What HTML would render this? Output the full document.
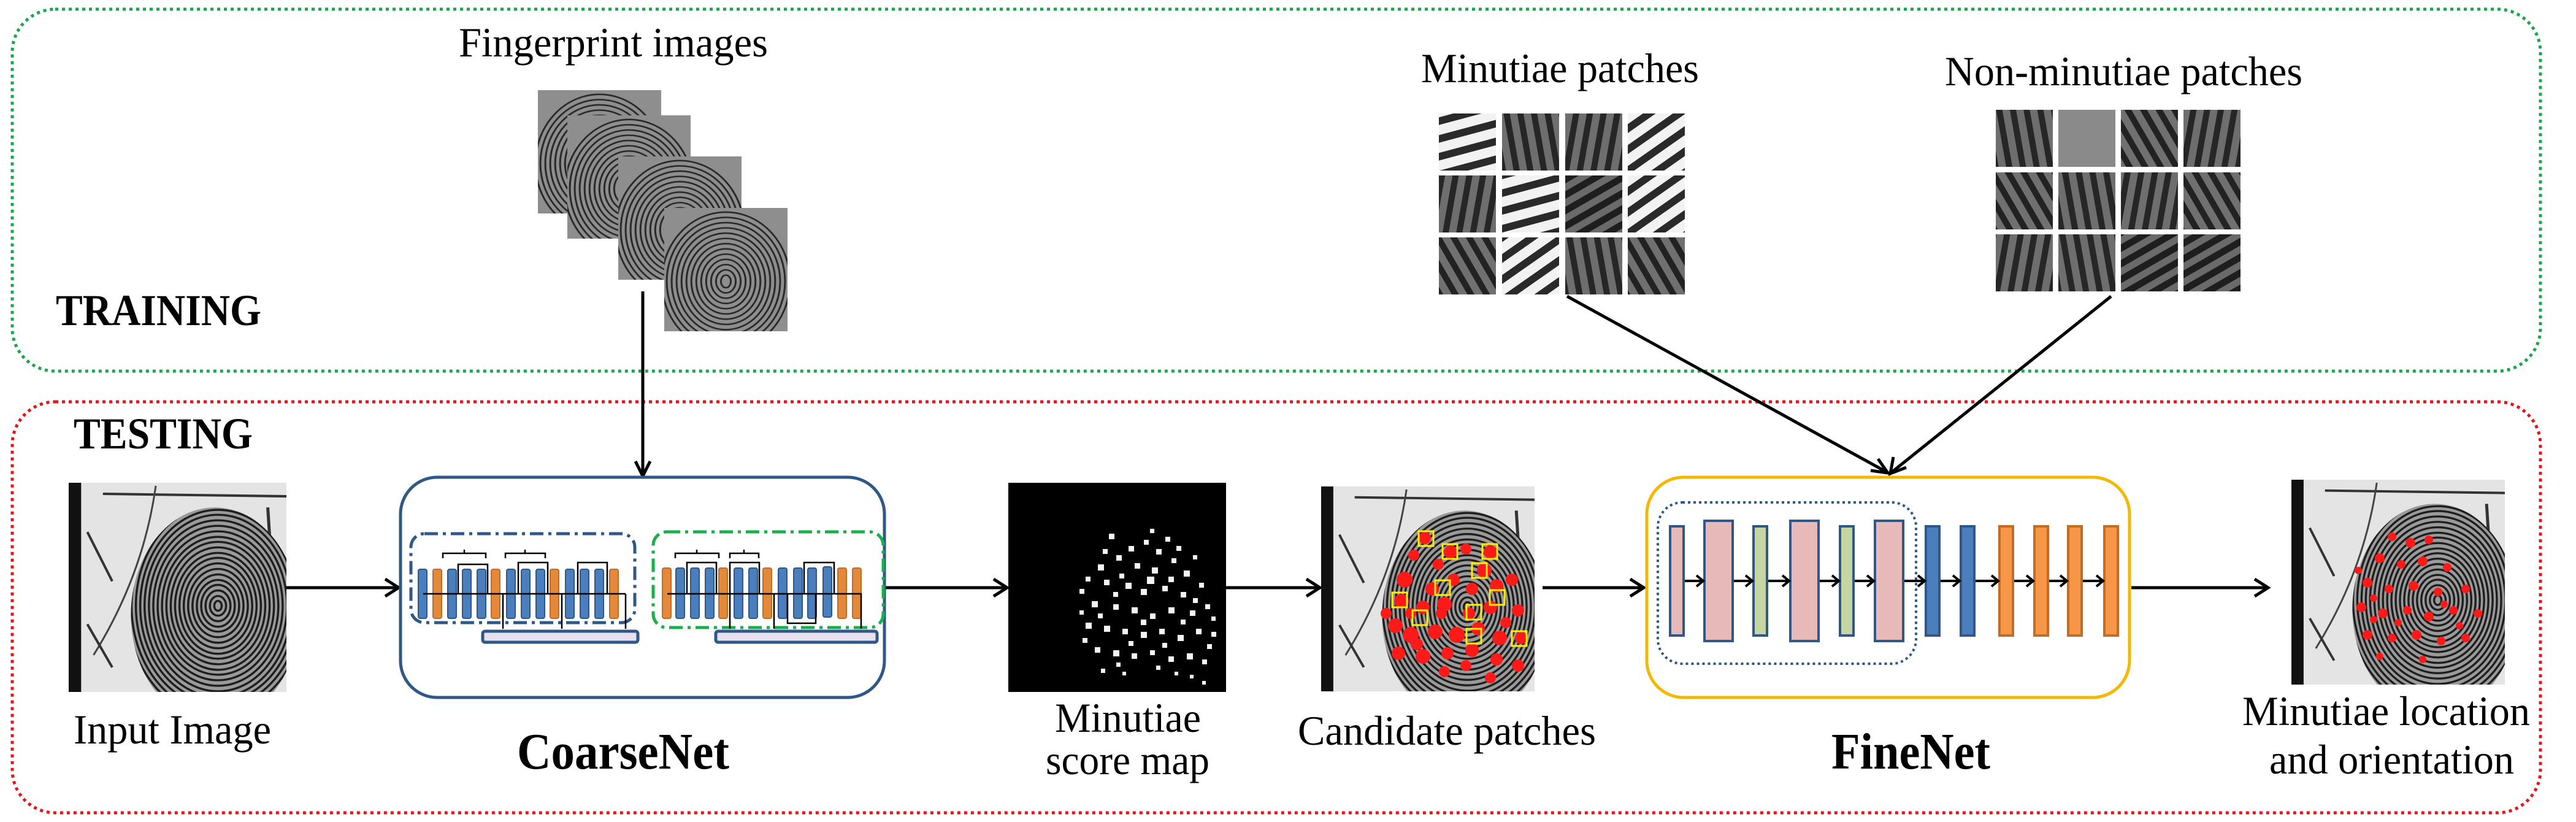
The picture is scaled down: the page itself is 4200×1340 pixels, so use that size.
<!DOCTYPE html>
<html><head><meta charset="utf-8"><style>
html,body{margin:0;padding:0;background:#fff}
svg{display:block}
text{font-family:"Liberation Serif",serif;fill:#000}
</style></head><body>
<svg width="4200" height="1340" viewBox="0 0 4200 1340" xmlns="http://www.w3.org/2000/svg">
<defs>
<clipPath id="fpc"><ellipse cx="235" cy="215" rx="135" ry="175"/></clipPath>
<symbol id="scan" viewBox="0 0 350 340" preserveAspectRatio="none">
 <rect width="350" height="340" fill="#e4e4e4"/>
 <rect x="0" y="0" width="20" height="340" fill="#111"/>
 <line x1="55" y1="18" x2="350" y2="22" stroke="#333" stroke-width="4"/>
 <path d="M140 5 Q120 150 40 280" stroke="#444" stroke-width="3" fill="none"/>
 <path d="M30 80 L70 160 M30 230 L70 300" stroke="#333" stroke-width="4"/>
 <path d="M290 60 L300 140 M320 40 L325 120" stroke="#333" stroke-width="5"/>
 <g clip-path="url(#fpc)" fill="none" stroke="#1e1e1e" stroke-width="3.4">
  <rect x="90" y="30" width="280" height="360" fill="#9a9a9a" stroke="none"/>
  <ellipse cx="240" cy="200" rx="6" ry="8"/><ellipse cx="240" cy="200" rx="13" ry="16"/><ellipse cx="240" cy="200" rx="20" ry="25"/><ellipse cx="240" cy="200" rx="27" ry="34"/><ellipse cx="240" cy="200" rx="34" ry="42"/><ellipse cx="240" cy="200" rx="41" ry="51"/><ellipse cx="240" cy="200" rx="48" ry="60"/><ellipse cx="240" cy="200" rx="55" ry="69"/><ellipse cx="240" cy="200" rx="62" ry="78"/><ellipse cx="240" cy="200" rx="69" ry="86"/><ellipse cx="240" cy="200" rx="76" ry="95"/><ellipse cx="240" cy="200" rx="83" ry="104"/><ellipse cx="240" cy="200" rx="90" ry="112"/><ellipse cx="240" cy="200" rx="97" ry="121"/><ellipse cx="240" cy="200" rx="104" ry="130"/><ellipse cx="240" cy="200" rx="111" ry="139"/><ellipse cx="240" cy="200" rx="118" ry="148"/><ellipse cx="240" cy="200" rx="125" ry="156"/><ellipse cx="240" cy="200" rx="132" ry="165"/><ellipse cx="240" cy="200" rx="139" ry="174"/><ellipse cx="240" cy="200" rx="146" ry="182"/><ellipse cx="240" cy="200" rx="153" ry="191"/>
 </g>
</symbol>
<clipPath id="fpc2"><rect width="200" height="235"/></clipPath>
<symbol id="card" viewBox="0 0 200 235" preserveAspectRatio="none">
 <rect width="200" height="235" fill="#8e8e8e"/>
 <g clip-path="url(#fpc2)" fill="none" stroke="#2a2a2a" stroke-width="3">
  <ellipse cx="100" cy="140" rx="8" ry="12"/><ellipse cx="100" cy="140" rx="16" ry="22"/><ellipse cx="100" cy="140" rx="24" ry="32"/><ellipse cx="100" cy="140" rx="32" ry="42"/><ellipse cx="100" cy="140" rx="40" ry="52"/><ellipse cx="100" cy="140" rx="48" ry="62"/><ellipse cx="100" cy="140" rx="56" ry="72"/><ellipse cx="100" cy="140" rx="64" ry="82"/><ellipse cx="100" cy="140" rx="72" ry="92"/><ellipse cx="100" cy="140" rx="80" ry="102"/><ellipse cx="100" cy="140" rx="88" ry="112"/><ellipse cx="100" cy="140" rx="96" ry="122"/><ellipse cx="100" cy="140" rx="104" ry="132"/>
 </g>
</symbol>
<pattern id="pw1" width="28" height="28" patternUnits="userSpaceOnUse" patternTransform="rotate(-15)"><rect width="28" height="28" fill="#f2f2f2"/><rect y="8" width="28" height="12" fill="#2a2a2a"/></pattern>
<pattern id="pw2" width="28" height="28" patternUnits="userSpaceOnUse" patternTransform="rotate(-35)"><rect width="28" height="28" fill="#f2f2f2"/><rect y="8" width="28" height="12" fill="#2a2a2a"/></pattern>
<pattern id="pd1" width="22" height="22" patternUnits="userSpaceOnUse" patternTransform="rotate(80)"><rect width="22" height="22" fill="#6e6e6e"/><rect y="6" width="22" height="10" fill="#262626"/></pattern>
<pattern id="pd2" width="22" height="22" patternUnits="userSpaceOnUse" patternTransform="rotate(100)"><rect width="22" height="22" fill="#6e6e6e"/><rect y="6" width="22" height="10" fill="#262626"/></pattern>
<pattern id="pd3" width="22" height="22" patternUnits="userSpaceOnUse" patternTransform="rotate(60)"><rect width="22" height="22" fill="#707070"/><rect y="6" width="22" height="10" fill="#222"/></pattern>
<pattern id="pd4" width="22" height="22" patternUnits="userSpaceOnUse" patternTransform="rotate(-30)"><rect width="22" height="22" fill="#6a6a6a"/><rect y="6" width="22" height="11" fill="#1e1e1e"/></pattern>
</defs>

<rect x="20" y="15" width="4122" height="590" rx="70" fill="none" stroke="#1aa64a" stroke-width="5" stroke-dasharray="5 6"/>
<rect x="20" y="655" width="4122" height="670" rx="70" fill="none" stroke="#e8141a" stroke-width="5" stroke-dasharray="5 6"/>
<text x="91" y="530" font-size="72" font-weight="bold" textLength="335" lengthAdjust="spacingAndGlyphs">TRAINING</text>
<text x="120" y="731" font-size="72" font-weight="bold" textLength="292" lengthAdjust="spacingAndGlyphs">TESTING</text>

<text x="748" y="92" font-size="68" textLength="504" lengthAdjust="spacingAndGlyphs">Fingerprint images</text>
<use href="#card" x="877" y="147" width="201" height="201"/>
<use href="#card" x="925" y="188" width="201" height="201"/>
<use href="#card" x="1008" y="255" width="201" height="201"/>
<use href="#card" x="1083" y="339" width="201" height="201"/>

<g stroke="#000" stroke-width="5" fill="none">
 <line x1="1048" y1="475" x2="1048" y2="775"/><polyline points="1036,752 1048,776 1060,752"/>
 <line x1="467" y1="958" x2="648" y2="958"/><polyline points="628,944 650,958 628,972"/>
 <line x1="1442" y1="958" x2="1640" y2="958"/><polyline points="1620,944 1642,958 1620,972"/>
 <line x1="1999" y1="958" x2="2150" y2="958"/><polyline points="2130,944 2152,958 2130,972"/>
 <line x1="2515" y1="958" x2="2678" y2="958"/><polyline points="2658,944 2680,958 2658,972"/>
 <line x1="3475" y1="958" x2="3696" y2="958"/><polyline points="3676,944 3698,958 3676,972"/>
 <line x1="2555" y1="483" x2="3077" y2="770"/><polyline points="3050,767 3078,771 3062,748"/>
 <line x1="3442" y1="483" x2="3084" y2="770"/><polyline points="3087,745 3082,772 3108,762"/>
</g>

<use href="#scan" x="112" y="787" width="355" height="341"/>
<text x="120" y="1212" font-size="68" textLength="322" lengthAdjust="spacingAndGlyphs">Input Image</text>

<rect x="653" y="778" width="789" height="359" rx="60" fill="#fff" stroke="#2f5788" stroke-width="5"/>
<rect x="670" y="870" width="365" height="145" rx="22" fill="none" stroke="#2f5788" stroke-width="5" stroke-dasharray="22 8 5 8"/>
<rect x="1065" y="867" width="375" height="156" rx="22" fill="none" stroke="#18b04a" stroke-width="5" stroke-dasharray="22 8 5 8"/>
<g stroke="#2f5788" stroke-width="2">
 <rect x="682" y="928" width="14" height="80" rx="3" fill="#4a7ebd"/><rect x="706" y="928" width="14" height="80" rx="3" fill="#e4893a" stroke="#c06d28"/><rect x="730" y="928" width="14" height="80" rx="3" fill="#4a7ebd"/><rect x="754" y="928" width="14" height="80" rx="3" fill="#4a7ebd"/><rect x="778" y="928" width="14" height="80" rx="3" fill="#4a7ebd"/><rect x="801" y="928" width="14" height="80" rx="3" fill="#e4893a" stroke="#c06d28"/><rect x="826" y="928" width="14" height="80" rx="3" fill="#4a7ebd"/><rect x="850" y="928" width="14" height="80" rx="3" fill="#4a7ebd"/><rect x="874" y="928" width="14" height="80" rx="3" fill="#4a7ebd"/><rect x="897" y="928" width="14" height="80" rx="3" fill="#e4893a" stroke="#c06d28"/><rect x="922" y="928" width="14" height="80" rx="3" fill="#4a7ebd"/><rect x="946" y="928" width="14" height="80" rx="3" fill="#4a7ebd"/><rect x="970" y="928" width="14" height="80" rx="3" fill="#4a7ebd"/><rect x="994" y="928" width="14" height="80" rx="3" fill="#e4893a" stroke="#c06d28"/>
 <rect x="1080" y="926" width="14" height="82" rx="3" fill="#e4893a" stroke="#c06d28"/><rect x="1102" y="926" width="14" height="82" rx="3" fill="#4a7ebd"/><rect x="1126" y="926" width="14" height="82" rx="3" fill="#4a7ebd"/><rect x="1150" y="926" width="14" height="82" rx="3" fill="#4a7ebd"/><rect x="1172" y="926" width="14" height="82" rx="3" fill="#e4893a" stroke="#c06d28"/><rect x="1197" y="926" width="14" height="82" rx="3" fill="#4a7ebd"/><rect x="1221" y="926" width="14" height="82" rx="3" fill="#4a7ebd"/><rect x="1244" y="926" width="14" height="82" rx="3" fill="#e4893a" stroke="#c06d28"/><rect x="1269" y="926" width="14" height="82" rx="3" fill="#4a7ebd"/><rect x="1294" y="926" width="14" height="82" rx="3" fill="#4a7ebd"/><rect x="1317" y="926" width="14" height="82" rx="3" fill="#4a7ebd"/><rect x="1342" y="924" width="14" height="82" rx="3" fill="#4a7ebd"/><rect x="1366" y="926" width="14" height="82" rx="3" fill="#e4893a" stroke="#c06d28"/><rect x="1390" y="926" width="14" height="82" rx="3" fill="#e4893a" stroke="#c06d28"/>
</g>
<rect x="787" y="1029" width="253" height="18" rx="4" fill="#e6e0ef" stroke="#2f5788" stroke-width="5"/>
<rect x="1167" y="1029" width="263" height="18" rx="4" fill="#e6e0ef" stroke="#2f5788" stroke-width="5"/>
<g stroke="#000" stroke-width="2.5" fill="none">
 <line x1="690" y1="968" x2="1020" y2="968"/>
 <line x1="1088" y1="968" x2="1405" y2="968"/>
 <path d="M722 910 V902 H792 V910 M757 902 V896"/><path d="M824 910 V902 H889 V910 M856 902 V896"/>
 <path d="M1101 910 V902 H1172 V910 M1136 902 V896"/><path d="M1190 910 V902 H1237 V910 M1213 902 V896"/>
 <path d="M747 968 V920 H795 V968"/><path d="M845 968 V917 H893 V968"/><path d="M942 968 V917 H990 V968"/>
 <path d="M1120 968 V917 H1168 V968"/><path d="M1190 968 V917 H1238 V968"/><path d="M1311 968 V917 H1360 V968"/><path d="M1284 968 V1016 H1330 V968"/>
 <path d="M820 968 V1025 M916 968 V1025 M1020 968 V1025"/>
 <path d="M1190 968 V1025 M1262 968 V1025 M1404 968 V1025"/>
</g>

<rect x="1644" y="787" width="355" height="341" fill="#000"/>
<g fill="#f4f4f4">
 <rect x="1808" y="870" width="9" height="9"/><rect x="1840" y="890" width="9" height="9"/><rect x="1865" y="880" width="8" height="8"/><rect x="1885" y="895" width="9" height="9"/><rect x="1900" y="875" width="8" height="8"/><rect x="1820" y="905" width="9" height="9"/><rect x="1790" y="920" width="10" height="10"/><rect x="1850" y="918" width="9" height="9"/><rect x="1878" y="925" width="10" height="10"/><rect x="1910" y="910" width="8" height="8"/><rect x="1930" y="930" width="10" height="10"/><rect x="1800" y="945" width="9" height="9"/><rect x="1835" y="950" width="10" height="10"/><rect x="1860" y="960" width="10" height="10"/><rect x="1895" y="955" width="9" height="9"/><rect x="1925" y="965" width="9" height="9"/><rect x="1955" y="950" width="8" height="8"/><rect x="1780" y="980" width="10" height="10"/><rect x="1815" y="985" width="9" height="9"/><rect x="1845" y="990" width="10" height="10"/><rect x="1875" y="1000" width="9" height="9"/><rect x="1905" y="990" width="10" height="10"/><rect x="1940" y="995" width="9" height="9"/><rect x="1965" y="985" width="8" height="8"/><rect x="1770" y="1015" width="10" height="10"/><rect x="1800" y="1020" width="10" height="10"/><rect x="1830" y="1025" width="9" height="9"/><rect x="1860" y="1030" width="10" height="10"/><rect x="1890" y="1025" width="9" height="9"/><rect x="1920" y="1035" width="10" height="10"/><rect x="1950" y="1025" width="9" height="9"/><rect x="1975" y="1030" width="8" height="8"/><rect x="1785" y="1055" width="9" height="9"/><rect x="1815" y="1060" width="10" height="10"/><rect x="1845" y="1065" width="9" height="9"/><rect x="1875" y="1060" width="8" height="8"/><rect x="1905" y="1070" width="9" height="9"/><rect x="1935" y="1065" width="10" height="10"/><rect x="1960" y="1075" width="8" height="8"/><rect x="1795" y="1090" width="7" height="7"/><rect x="1830" y="1095" width="6" height="6"/><rect x="1940" y="1100" width="6" height="6"/><rect x="1960" y="1110" width="6" height="6"/><rect x="1760" y="960" width="8" height="8"/><rect x="1870" y="940" width="12" height="12"/><rect x="1825" y="935" width="8" height="8"/>
 <rect x="1798" y="895" width="8" height="8"/><rect x="1875" y="862" width="7" height="7"/><rect x="1918" y="890" width="8" height="8"/><rect x="1945" y="905" width="7" height="7"/><rect x="1770" y="940" width="8" height="8"/><rect x="1815" y="965" width="8" height="8"/><rect x="1905" y="940" width="9" height="9"/><rect x="1945" y="975" width="8" height="8"/><rect x="1790" y="1000" width="8" height="8"/><rect x="1860" y="1010" width="9" height="9"/><rect x="1925" y="1010" width="8" height="8"/><rect x="1765" y="1040" width="8" height="8"/><rect x="1840" y="1045" width="8" height="8"/><rect x="1895" y="1048" width="8" height="8"/><rect x="1968" y="1050" width="8" height="8"/><rect x="1820" y="1080" width="7" height="7"/><rect x="1885" y="1085" width="7" height="7"/><rect x="1915" y="1095" width="6" height="6"/><rect x="1975" y="1005" width="7" height="7"/><rect x="1760" y="995" width="7" height="7"/>
</g>
<text x="1720" y="1193" font-size="68" textLength="238" lengthAdjust="spacingAndGlyphs">Minutiae</text>
<text x="1705" y="1262" font-size="68" textLength="267" lengthAdjust="spacingAndGlyphs">score map</text>

<use href="#scan" x="2154" y="793" width="348" height="334"/>
<g fill="#ff1a1a">
 <circle cx="2323" cy="877" r="10"/><circle cx="2365" cy="900" r="11"/><circle cx="2390" cy="895" r="9"/><circle cx="2430" cy="900" r="11"/><circle cx="2305" cy="905" r="9"/><circle cx="2420" cy="930" r="12"/><circle cx="2290" cy="945" r="13"/><circle cx="2335" cy="960" r="11"/><circle cx="2370" cy="945" r="10"/><circle cx="2440" cy="955" r="11"/><circle cx="2465" cy="945" r="10"/><circle cx="2285" cy="980" r="12"/><circle cx="2320" cy="990" r="11"/><circle cx="2355" cy="985" r="12"/><circle cx="2395" cy="1000" r="10"/><circle cx="2430" cy="990" r="11"/><circle cx="2475" cy="995" r="10"/><circle cx="2275" cy="1020" r="12"/><circle cx="2300" cy="1035" r="13"/><circle cx="2340" cy="1030" r="12"/><circle cx="2375" cy="1035" r="13"/><circle cx="2410" cy="1025" r="11"/><circle cx="2445" cy="1040" r="12"/><circle cx="2480" cy="1040" r="10"/><circle cx="2280" cy="1065" r="11"/><circle cx="2320" cy="1070" r="12"/><circle cx="2360" cy="1065" r="10"/><circle cx="2400" cy="1060" r="11"/><circle cx="2440" cy="1075" r="10"/><circle cx="2475" cy="1085" r="10"/><circle cx="2430" cy="1105" r="9"/><circle cx="2350" cy="1000" r="9"/><circle cx="2300" cy="1000" r="9"/>
 <circle cx="2345" cy="920" r="9"/><circle cx="2400" cy="960" r="10"/><circle cx="2455" cy="1015" r="9"/><circle cx="2310" cy="1050" r="10"/><circle cx="2390" cy="1085" r="9"/><circle cx="2260" cy="1000" r="9"/><circle cx="2355" cy="1095" r="9"/>
</g>
<g fill="none" stroke="#ffee00" stroke-width="3">
 <rect x="2313" y="866" width="24" height="24"/><rect x="2352" y="887" width="24" height="24"/><rect x="2417" y="887" width="24" height="24"/><rect x="2400" y="918" width="24" height="24"/><rect x="2340" y="946" width="24" height="24"/><rect x="2270" y="966" width="24" height="24"/><rect x="2303" y="995" width="24" height="24"/><rect x="2391" y="986" width="24" height="24"/><rect x="2429" y="962" width="24" height="24"/><rect x="2391" y="1025" width="24" height="24"/><rect x="2465" y="1029" width="24" height="24"/>
</g>
<text x="2116" y="1214" font-size="68" textLength="486" lengthAdjust="spacingAndGlyphs">Candidate patches</text>

<rect x="2685" y="778" width="787" height="359" rx="60" fill="#fff" stroke="#f5b800" stroke-width="5"/>
<rect x="2703" y="819" width="421" height="263" rx="40" fill="none" stroke="#2f5788" stroke-width="4" stroke-dasharray="4 5"/>
<g stroke="#2f5788" stroke-width="4">
 <rect x="2723" y="858" width="22" height="178" fill="#e8b9b9"/>
 <rect x="2779" y="849" width="46" height="196" fill="#e8b9b9"/>
 <rect x="2859" y="858" width="22" height="178" fill="#c5d6a2"/>
 <rect x="2919" y="849" width="46" height="196" fill="#e8b9b9"/>
 <rect x="3000" y="858" width="22" height="178" fill="#c5d6a2"/>
 <rect x="3057" y="849" width="46" height="196" fill="#e8b9b9"/>
 <rect x="3140" y="858" width="22" height="178" fill="#4a7ebd"/>
 <rect x="3197" y="858" width="22" height="178" fill="#4a7ebd"/>
</g>
<g stroke="#c06d28" stroke-width="4" fill="#f79646">
 <rect x="3260" y="858" width="22" height="178"/><rect x="3317" y="858" width="22" height="178"/><rect x="3372" y="858" width="22" height="178"/><rect x="3431" y="858" width="22" height="178"/>
</g>
<g stroke="#000" stroke-width="4" fill="none">
 <path d="M2747 947 H2777 M2766 938 L2777 947 L2766 956"/>
 <path d="M2827 947 H2857 M2846 938 L2857 947 L2846 956"/>
 <path d="M2883 947 H2917 M2906 938 L2917 947 L2906 956"/>
 <path d="M2967 947 H2998 M2987 938 L2998 947 L2987 956"/>
 <path d="M3024 947 H3055 M3044 938 L3055 947 L3044 956"/>
 <path d="M3105 947 H3138 M3127 938 L3138 947 L3127 956"/>
 <path d="M3164 947 H3195 M3184 938 L3195 947 L3184 956"/>
 <path d="M3221 947 H3258 M3247 938 L3258 947 L3247 956"/>
 <path d="M3284 947 H3315 M3304 938 L3315 947 L3304 956"/>
 <path d="M3341 947 H3370 M3359 938 L3370 947 L3359 956"/>
 <path d="M3396 947 H3429 M3418 938 L3429 947 L3418 956"/>
</g>
<text x="2986" y="1253" font-size="84" font-weight="bold" textLength="259" lengthAdjust="spacingAndGlyphs">FineNet</text>
<text x="843" y="1253" font-size="84" font-weight="bold" textLength="346" lengthAdjust="spacingAndGlyphs">CoarseNet</text>

<use href="#scan" x="3736" y="782" width="348" height="334"/>
<g fill="#ff1a1a">
 <circle cx="3900" cy="875" r="7"/><circle cx="3930" cy="885" r="8"/><circle cx="3960" cy="880" r="7"/><circle cx="3880" cy="910" r="8"/><circle cx="3915" cy="920" r="7"/><circle cx="3950" cy="915" r="8"/><circle cx="3990" cy="925" r="7"/><circle cx="3860" cy="950" r="8"/><circle cx="3895" cy="960" r="7"/><circle cx="3935" cy="955" r="8"/><circle cx="3975" cy="965" r="7"/><circle cx="4020" cy="960" r="7"/><circle cx="3850" cy="990" r="8"/><circle cx="3885" cy="1000" r="8"/><circle cx="3925" cy="995" r="7"/><circle cx="3960" cy="1005" r="8"/><circle cx="4000" cy="995" r="7"/><circle cx="4040" cy="1000" r="7"/><circle cx="3860" cy="1035" r="8"/><circle cx="3900" cy="1040" r="7"/><circle cx="3940" cy="1035" r="8"/><circle cx="3980" cy="1045" r="7"/><circle cx="4020" cy="1040" r="7"/><circle cx="3880" cy="1070" r="6"/><circle cx="3950" cy="1075" r="6"/><circle cx="3845" cy="930" r="6"/>
 <circle cx="3870" cy="1010" r="6"/><circle cx="3910" cy="1015" r="6"/><circle cx="4010" cy="1020" r="6"/><circle cx="3985" cy="985" r="6"/><circle cx="3870" cy="975" r="6"/>
</g>
<text x="3656" y="1182" font-size="68" textLength="469" lengthAdjust="spacingAndGlyphs">Minutiae location</text>
<text x="3700" y="1261" font-size="68" textLength="399" lengthAdjust="spacingAndGlyphs">and orientation</text>

<text x="2317" y="134" font-size="68" textLength="453" lengthAdjust="spacingAndGlyphs">Minutiae patches</text>
<text x="3171" y="139" font-size="68" textLength="583" lengthAdjust="spacingAndGlyphs">Non-minutiae patches</text>
<g>
 <rect x="2346" y="185" width="93" height="93" fill="url(#pw1)"/><rect x="2449" y="185" width="93" height="93" fill="url(#pd1)"/><rect x="2552" y="185" width="93" height="93" fill="url(#pd2)"/><rect x="2654" y="185" width="93" height="93" fill="url(#pw2)"/>
 <rect x="2346" y="286" width="93" height="93" fill="url(#pd2)"/><rect x="2449" y="286" width="93" height="93" fill="url(#pw1)"/><rect x="2552" y="286" width="93" height="93" fill="url(#pd4)"/><rect x="2654" y="286" width="93" height="93" fill="url(#pw2)"/>
 <rect x="2346" y="387" width="93" height="93" fill="url(#pd3)"/><rect x="2449" y="387" width="93" height="93" fill="url(#pw2)"/><rect x="2552" y="387" width="93" height="93" fill="url(#pd1)"/><rect x="2654" y="387" width="93" height="93" fill="url(#pd3)"/>
</g>
<g>
 <rect x="3254" y="179" width="93" height="93" fill="url(#pd1)"/><rect x="3356" y="179" width="93" height="93" fill="#8a8a8a"/><rect x="3458" y="179" width="93" height="93" fill="url(#pd3)"/><rect x="3560" y="179" width="93" height="93" fill="url(#pd2)"/>
 <rect x="3254" y="281" width="93" height="93" fill="url(#pd3)"/><rect x="3356" y="281" width="93" height="93" fill="url(#pd1)"/><rect x="3458" y="281" width="93" height="93" fill="url(#pd2)"/><rect x="3560" y="281" width="93" height="93" fill="url(#pd3)"/>
 <rect x="3254" y="382" width="93" height="93" fill="url(#pd2)"/><rect x="3356" y="382" width="93" height="93" fill="url(#pd1)"/><rect x="3458" y="382" width="93" height="93" fill="url(#pd4)"/><rect x="3560" y="382" width="93" height="93" fill="url(#pd4)"/>
</g>
</svg>
</body></html>
